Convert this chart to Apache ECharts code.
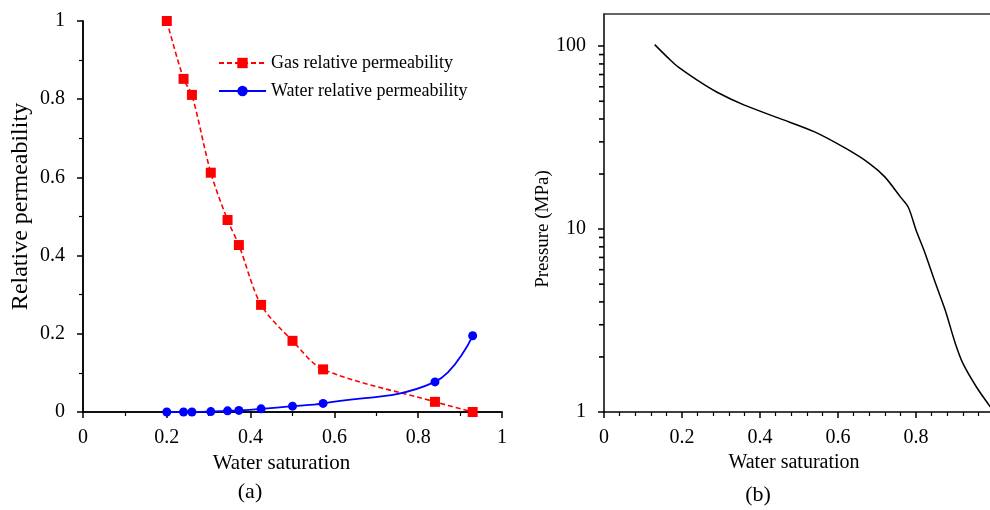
<!DOCTYPE html>
<html>
<head>
<meta charset="utf-8">
<script src="https://cdn.jsdelivr.net/npm/echarts@6/dist/echarts.min.js"></script>
<style>html,body{margin:0;padding:0;background:#fff}#c{width:990px;height:510px}</style>
</head>
<body>
<div id="c"></div>
<script>
// (a) relative permeability
const satA = [0.2, 0.24, 0.26, 0.305, 0.345, 0.372, 0.425, 0.5, 0.573, 0.84, 0.93];
const gasKr = [1.0, 0.852, 0.811, 0.612, 0.491, 0.427, 0.274, 0.182, 0.109, 0.026, 0.0];
const waterKr = [0, 0, 0, 0.001, 0.003, 0.004, 0.008, 0.015, 0.022, 0.077, 0.195];
// (b) capillary pressure
const satB = [0.13, 0.17, 0.19, 0.24, 0.29, 0.36, 0.45, 0.54, 0.62, 0.68, 0.72, 0.76, 0.78, 0.80, 0.82, 0.85, 0.875, 0.9, 0.92, 0.955, 0.99, 1.0];
const pressure = [102, 84, 77, 65, 56, 47.6, 40.3, 34, 27.6, 22.9, 19.3, 15.0, 13.2, 9.9, 7.7, 5.05, 3.6, 2.4, 1.85, 1.37, 1.07, 1.0];
// tick labels
const xTicksA = [0, 0.2, 0.4, 0.6, 0.8, 1];
const yTicksA = [0, 0.2, 0.4, 0.6, 0.8, 1];
const yMajorB = [1, 10, 100];
const yMinorB = [2, 3, 4, 5, 6, 7, 8, 9, 20, 30, 40, 50, 60, 70, 80, 90];

const FONT = "'Liberation Serif', 'Times New Roman', serif";
const axLine = {show: true, lineStyle: {color: '#000', width: 1.5}};
const lbl = {color: '#000', fontFamily: FONT, fontSize: 20};
const pairA = (ys) => satA.map((x, i) => [x, ys[i]]);
const pairB = satB.map((x, i) => [x, pressure[i]]);

const chart = echarts.init(document.getElementById('c'), null, {renderer: 'canvas'});
chart.setOption({
  animation: false,
  backgroundColor: '#fff',
  title: [
    {text: '(a)', left: 250, top: 481, textAlign: 'center', padding: 0,
     textStyle: {fontFamily: FONT, fontSize: 22, fontWeight: 'normal', color: '#000'}},
    {text: '(b)', left: 758, top: 484, textAlign: 'center', padding: 0,
     textStyle: {fontFamily: FONT, fontSize: 22, fontWeight: 'normal', color: '#000'}}
  ],
  legend: {
    orient: 'vertical', left: 218, top: 54, padding: 0, itemWidth: 47, itemHeight: 13, itemGap: 10,
    textStyle: {fontFamily: FONT, fontSize: 18, color: '#000', lineHeight: 18},
    data: ['Gas relative permeability', 'Water relative permeability']
  },
  grid: [
    {left: 83, width: 419, top: 21, height: 391, outerBoundsMode: 'none', containLabel: false},
    {left: 604, width: 390, top: 14, height: 398, outerBoundsMode: 'none', containLabel: false}
  ],
  xAxis: [
    {gridIndex: 0, type: 'value', min: xTicksA[0], max: xTicksA[xTicksA.length - 1], interval: 0.2, position: 'bottom',
     axisLine: axLine, axisTick: {show: true, length: 6, lineStyle: {color: '#000', width: 1.5}},
     minorTick: {show: true, splitNumber: 2, length: 4, lineStyle: {color: '#000', width: 1.2}},
     splitLine: {show: false}, axisLabel: Object.assign({margin: 16}, lbl),
     name: 'Water saturation', nameLocation: 'middle', nameGap: 36,
     nameTextStyle: {fontFamily: FONT, fontSize: 21, color: '#000', padding: [0, 22, 0, 0]}},
    {gridIndex: 0, type: 'value', min: 0, max: 1, position: 'top', axisLine: axLine,
     axisTick: {show: false}, axisLabel: {show: false}, splitLine: {show: false}},
    {gridIndex: 1, type: 'value', min: 0, max: 1, interval: 0.2, position: 'bottom',
     axisLine: axLine, axisTick: {show: true, length: 6, lineStyle: {color: '#000', width: 1.5}},
     minorTick: {show: true, splitNumber: 5, length: 4, lineStyle: {color: '#000', width: 1.2}},
     splitLine: {show: false}, axisLabel: Object.assign({margin: 16}, lbl),
     name: 'Water saturation', nameLocation: 'middle', nameGap: 36,
     nameTextStyle: {fontFamily: FONT, fontSize: 20, color: '#000', padding: [0, 10, 0, 0]}},
    {gridIndex: 1, type: 'value', min: 0, max: 1, position: 'top',
     axisLine: {show: true, lineStyle: {color: '#333', width: 1.5}},
     axisTick: {show: false}, axisLabel: {show: false}, splitLine: {show: false}}
  ],
  yAxis: [
    {gridIndex: 0, type: 'value', min: yTicksA[0], max: yTicksA[yTicksA.length - 1], interval: 0.2, position: 'left',
     axisLine: axLine, axisTick: {show: true, length: 6, lineStyle: {color: '#000', width: 1.5}},
     minorTick: {show: true, splitNumber: 2, length: 4, lineStyle: {color: '#000', width: 1.2}},
     splitLine: {show: false}, axisLabel: Object.assign({margin: 18}, lbl),
     name: 'Relative permeability', nameLocation: 'middle', nameGap: 50,
     nameTextStyle: {fontFamily: FONT, fontSize: 24, color: '#000', padding: [0, 0, 0, 20]}},
    {gridIndex: 0, type: 'value', min: 0, max: 1, position: 'right', axisLine: axLine,
     axisTick: {show: false}, axisLabel: {show: false}, splitLine: {show: false}},
    {gridIndex: 1, type: 'log', logBase: 10, min: 1, max: 150, position: 'left',
     axisLine: axLine,
     axisTick: {show: true, length: 6, customValues: yMajorB, lineStyle: {color: '#000', width: 1.5}},
     axisLabel: Object.assign({margin: 18, customValues: yMajorB}, lbl),
     splitLine: {show: false},
     name: 'Pressure (MPa)', nameLocation: 'middle', nameGap: 45,
     nameTextStyle: {fontFamily: FONT, fontSize: 19, color: '#000', padding: [0, 32, 0, 0]}}
  ],
  series: [
    {name: 'Gas relative permeability', type: 'line', xAxisIndex: 0, yAxisIndex: 0,
     data: pairA(gasKr), smooth: 0.3, symbol: 'rect', symbolSize: 10,
     lineStyle: {color: '#ff0000', width: 1.6, type: [5, 3]},
     itemStyle: {color: '#ff0000'}},
    {name: 'Water relative permeability', type: 'line', xAxisIndex: 0, yAxisIndex: 0,
     data: pairA(waterKr), smooth: 0.4, symbol: 'circle', symbolSize: 9,
     lineStyle: {color: '#0000ff', width: 1.8},
     itemStyle: {color: '#0000ff'}},
    {name: 'Capillary pressure', type: 'line', xAxisIndex: 2, yAxisIndex: 2,
     data: pairB, smooth: 0.3, showSymbol: false, symbol: 'none',
     lineStyle: {color: '#000', width: 1.5}},
    {name: 'Minor ticks', type: 'scatter', xAxisIndex: 2, yAxisIndex: 2, clip: false, silent: true,
     data: yMinorB.map(v => [0, v]),
     symbol: 'rect', symbolSize: [5, 1.6], symbolOffset: [-2.5, 0],
     itemStyle: {color: '#000', opacity: 1}, z: 5}
  ]
});
</script>
</body>
</html>
